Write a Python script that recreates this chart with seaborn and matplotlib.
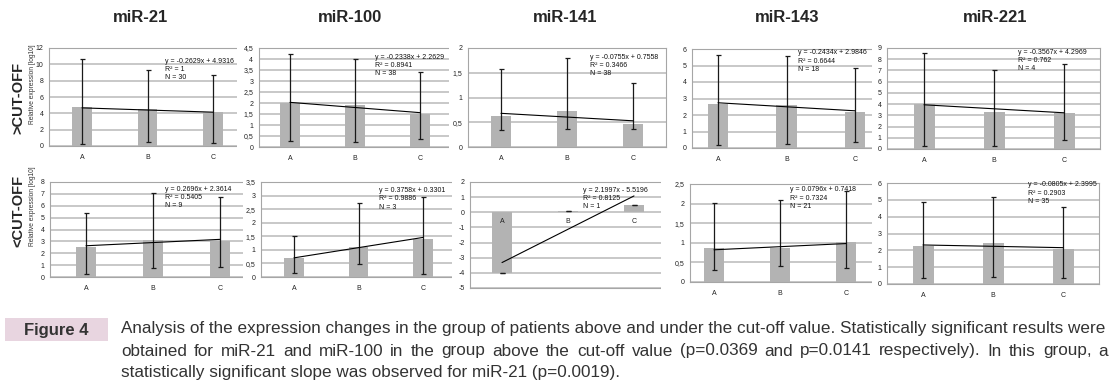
import matplotlib
matplotlib.use("Agg")
import matplotlib.pyplot as plt
from matplotlib.patches import Rectangle
import seaborn as sns

W, H = 1116, 387

mirs = ["miR-21", "miR-100", "miR-141", "miR-143", "miR-221"]
groups = ["A", "B", "C"]

# above cut-off: bar means and error bar limits
above_mean = [[4.73, 4.49, 4.20], [2.02, 1.89, 1.51], [0.63, 0.73, 0.46],
              [2.67, 2.59, 2.18], [3.99, 3.30, 3.24]]
above_low = [[0.29, 0.49, 0.41], [0.26, 0.23, 0.38], [0.34, 0.36, 0.36],
             [0.18, 0.24, 0.35], [0.30, 0.30, 0.80]]
above_high = [[10.7, 9.34, 8.72], [4.23, 4.00, 3.40], [1.57, 1.79, 1.29],
              [5.62, 5.56, 4.83], [8.57, 7.00, 7.56]]
above_slope = [-0.2629, -0.2338, -0.0755, -0.2434, -0.3567]
above_icpt = [4.9316, 2.2629, 0.7558, 2.9846, 4.2969]
above_r2 = ["1", "0.8941", "0.3466", "0.6644", "0.762"]
above_n = [30, 38, 38, 18, 4]
above_ylim = [(0, 12), (0, 4.5), (0, 2), (0, 6), (0, 9)]
above_step = [2, 0.5, 0.5, 1, 1]

# under cut-off
under_mean = [[2.50, 3.12, 3.04], [0.70, 1.12, 1.40], [-4.0, 0.07, 0.47],
              [0.86, 0.86, 1.02], [2.27, 2.43, 2.07]]
under_low = [[0.25, 0.75, 0.84], [0.15, 0.48, 0.11], [-4.0, 0.07, 0.47],
             [0.31, 0.40, 0.36], [0.34, 0.40, 0.38]]
under_high = [[5.35, 7.08, 6.74], [1.52, 2.74, 2.95], [-4.0, 0.07, 0.47],
              [2.01, 2.08, 2.33], [4.85, 5.15, 4.55]]
under_slope = [0.2696, 0.3758, 2.1997, 0.0796, -0.0805]
under_icpt = [2.3614, 0.3301, -5.5196, 0.7418, 2.3995]
under_r2 = ["0.5405", "0.9886", "0.8125", "0.7324", "0.2903"]
under_n = [9, 3, 1, 21, 35]
under_ylim = [(0, 8), (0, 3.5), (-5, 2), (0, 2.5), (0, 6)]
under_step = [1, 0.5, 1, 0.5, 1]

caption = [
    "Analysis of the expression changes in the group of patients above and under the cut-off value. Statistically significant results were",
    "obtained for miR-21 and miR-100 in the group above the cut-off value (p=0.0369 and p=0.0141 respectively). In this group, a",
    "statistically significant slope was observed for miR-21 (p=0.0019).",
]

# layout in pixels: centre of bar A / bar C, plot top / bottom, left edge of chart image
top_xa = [82, 290, 501, 718, 924]
top_xc = [213, 420, 633, 855, 1064]
top_y0 = [48, 48, 48, 49, 48]
top_y1 = [146, 147, 147, 148, 149]
top_xlo = [0.5, 0.48, 0.5, 0.38, 0.53]
top_cut = [0, 237, 449, 670, 872]
top_eqx = [1.27, 1.31, 1.35, 1.17, 1.34]
top_eqy = [0.90, 0.94, 0.94, 0.995, 0.995]

bot_xa = [86, 294, 502, 714, 923]
bot_xc = [220, 423, 634, 846, 1063]
bot_y0 = [182, 182, 182, 184, 183]
bot_y1 = [277, 277, 288, 282, 284]
bot_xlo = [0.54, 0.51, 0.48, 0.36, 0.51]
bot_cut = [0, 243, 452, 661, 872]
bot_eqx = [1.18, 1.32, 1.23, 1.15, 1.5]
bot_eqy = [0.96, 0.945, 0.955, 0.975, 1.015]

title_x = [141, 350, 565, 787, 995]

BAR = "#b3b3b3"
GRID = "#c4c4c4"


def fmt(v):
    return ("%g" % v).replace(".", ",")


def panel(fig, k, mean, low, high, slope, icpt, r2, n, ylim, step,
          xa, xc, y0, y1, xlo, cut, eqx, eqy, rect_y):
    s = (xc - xa) / 2.0
    xhi = 0.51 if k == 4 else 0.5
    left = xa - xlo * s
    width = (xlo + 2 + xhi) * s
    # white chart image background, later charts cover earlier ones
    fig.add_artist(Rectangle((cut / W, 1 - rect_y[1] / H), (W - cut) / W,
                             (rect_y[1] - rect_y[0]) / H, facecolor="white",
                             edgecolor="none", zorder=2 * k + 1))
    ax = fig.add_axes([left / W, 1 - y1 / H, width / W, (y1 - y0) / H])
    ax.set_zorder(2 * k + 2)
    ax.set_facecolor("none")

    sns.barplot(x=groups, y=mean, color=BAR, width=0.3, saturation=1,
                errorbar=None, linewidth=0, ax=ax, zorder=2)
    xs = list(range(3))
    ax.errorbar(xs, mean, yerr=[[m - lo for m, lo in zip(mean, low)],
                                [hi - m for m, hi in zip(mean, high)]],
                fmt="none", ecolor="#1a1a1a", elinewidth=0.9, capsize=1.8,
                capthick=0.9, zorder=4)
    trend = [slope * (i + 1) + icpt for i in xs]
    ax.plot([0, 2], [trend[0], trend[2]], color="black", lw=0.8, zorder=5)

    ax.set_xlim(-xlo, 2 + xhi)
    ax.set_ylim(*ylim)
    ticks = []
    t = ylim[0]
    while t <= ylim[1] + 1e-9:
        ticks.append(round(t, 3))
        t += step
    ax.set_yticks(ticks)
    ax.set_yticklabels([fmt(t) for t in ticks])
    ax.grid(axis="y", color=GRID, lw=1.3, zorder=0)
    ax.set_axisbelow(True)
    for sp in ax.spines.values():
        sp.set_color("#a6a6a6")
        sp.set_linewidth(0.8)
    ax.tick_params(axis="y", length=0, pad=4, labelsize=5, labelcolor="#222222")
    ax.tick_params(axis="x", length=0, pad=6, labelsize=5, labelcolor="#222222")
    ax.set_xlabel("")
    ax.set_ylabel("")

    if ylim[0] < 0:
        ax.set_xticklabels([])
        for i, g in enumerate(groups):
            ax.annotate(g, (i, 0), xytext=(0, -4), textcoords="offset points",
                        ha="center", va="top", fontsize=5, color="#222222",
                        zorder=6)

    ax.text(eqx, eqy, "y = %s%.4fx %s %.4f\nR² = %s\nN = %d"
            % ("-" if slope < 0 else "", abs(slope), "-" if icpt < 0 else "+",
               abs(icpt), r2, n),
            transform=ax.get_xaxis_transform(), ha="left", va="top",
            fontsize=5, color="#111111", linespacing=1.25, zorder=7)
    return ax


sns.set_style("white")
plt.rcParams["font.family"] = ["Liberation Sans", "DejaVu Sans"]

fig = plt.figure(figsize=(W / 100, H / 100), dpi=100)
fig.patch.set_facecolor("white")

for k in range(5):
    panel(fig, k, above_mean[k], above_low[k], above_high[k], above_slope[k],
          above_icpt[k], above_r2[k], above_n[k], above_ylim[k], above_step[k],
          top_xa[k], top_xc[k], top_y0[k], top_y1[k], top_xlo[k], top_cut[k],
          top_eqx[k], top_eqy[k], (32, 170))
    panel(fig, k, under_mean[k], under_low[k], under_high[k], under_slope[k],
          under_icpt[k], under_r2[k], under_n[k], under_ylim[k], under_step[k],
          bot_xa[k], bot_xc[k], bot_y0[k], bot_y1[k], bot_xlo[k], bot_cut[k],
          bot_eqx[k], bot_eqy[k], (171, 312))
    fig.text(title_x[k] / W, 1 - 17 / H, mirs[k], ha="center", va="center",
             fontsize=12, fontweight="bold", zorder=50)

fig.text(18 / W, 1 - 98 / H, ">CUT-OFF", rotation=90, ha="center", va="center",
         fontsize=10.5, fontweight="bold", zorder=50)
fig.text(18 / W, 1 - 211 / H, "<CUT-OFF", rotation=90, ha="center", va="center",
         fontsize=10.5, fontweight="bold", zorder=50)
fig.text(33 / W, 1 - 84 / H, "Relative expression [log10]", rotation=90,
         ha="center", va="center", fontsize=4.8, color="#333333", zorder=50)
fig.text(33 / W, 1 - 206 / H, "Relative expression [log10]", rotation=90,
         ha="center", va="center", fontsize=4.8, color="#333333", zorder=50)

# caption
fig.add_artist(Rectangle((5 / W, 1 - 341 / H), 103 / W, 23 / H,
                         facecolor="#e8d5e0", edgecolor="none", zorder=40))
fig.text(56 / W, 1 - 330 / H, "Figure 4", ha="center", va="center",
         fontsize=12, fontweight="bold", color="#333333", zorder=50)

renderer = fig.canvas.get_renderer()
cap_left, cap_right = 121, 1108
probe = fig.text(0, 0, caption[0], fontsize=10)
cap_size = 10 * (cap_right - cap_left) / probe.get_window_extent(renderer).width
probe.remove()

for i, line in enumerate(caption):
    y = 1 - (329 + 22 * i) / H
    if i != 1:
        fig.text(cap_left / W, y, line, ha="left", va="center",
                 fontsize=cap_size, color="#333333", zorder=50)
        continue
    # justified line: spread words over the full text width
    words = line.split(" ")
    objs = [fig.text(0, y, w, ha="left", va="center", fontsize=cap_size,
                     color="#333333", zorder=50) for w in words]
    widths = [o.get_window_extent(renderer).width for o in objs]
    gap = (cap_right - cap_left - sum(widths)) / (len(words) - 1)
    x = cap_left
    for o, w in zip(objs, widths):
        o.set_x(x / W)
        x += w + gap

fig.savefig("out.png", dpi=100)
